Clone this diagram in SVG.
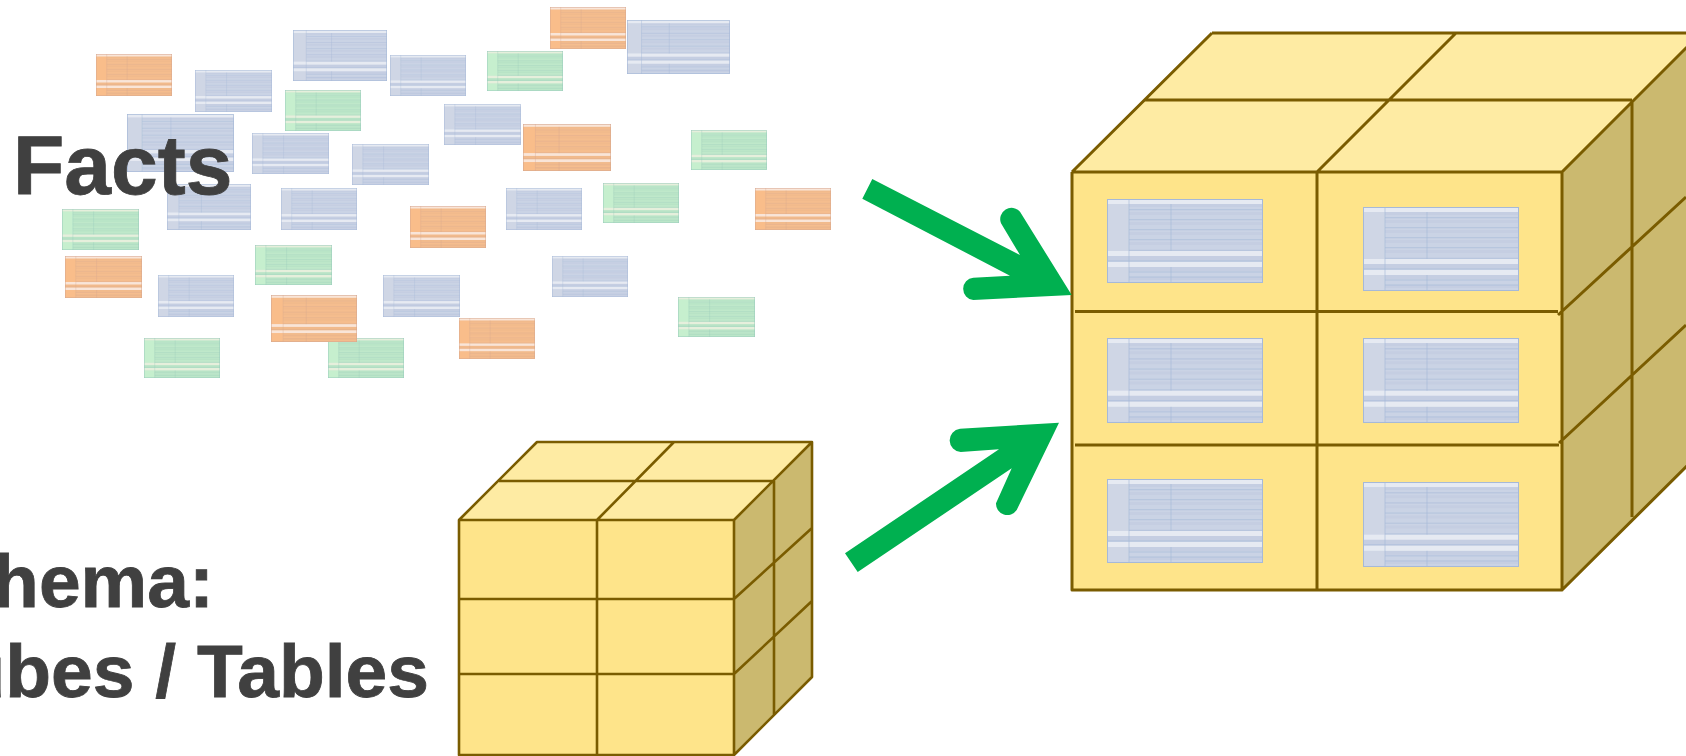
<svg xmlns="http://www.w3.org/2000/svg" width="1686" height="756" viewBox="0 0 1686 756">
<style>
.blue{--body:#cad3e5;--left:#cfd6e5;--band:#e6eaf2;--line:#a6b9d8;--stripe:#c5cee2}
.green{--body:#bfe8ca;--left:#c6efce;--band:#e6efdc;--line:#96c9bb;--stripe:#b8e3c6}
.orange{--body:#f5bd8e;--left:#f9bd8a;--band:#f9e5d8;--line:#d5a68f;--stripe:#f1ba8c}
.t-body{fill:var(--body)}
.t-left{fill:var(--left)}
.t-band{fill:var(--band)}
.t-stripe{fill:var(--stripe)}
.t-line{fill:none;stroke:var(--line);stroke-width:.8;stroke-opacity:.8}
.t-frame{fill:none;stroke:var(--line);stroke-width:1}
.face-front{fill:#fee48a}
.face-top{fill:#feeba3}
.face-side{fill:#cbb96f}
.edge{fill:none;stroke:#7a5c00;stroke-linejoin:round}
.big .edge{stroke-width:3}
.small .edge{stroke-width:2.6}
.arrow{fill:#00b050}
.label{font-family:"Liberation Sans",Arial,sans-serif;font-weight:700;fill:#404040;stroke:#404040;stroke-width:.8}
.l1{font-size:84px}
.l2{font-size:75px}
</style>
<defs>
<symbol id="table" viewBox="0 0 156 84" preserveAspectRatio="none">
<rect class="t-body" width="156" height="84"/>
<path class="t-stripe" d="M22 5h134v3H22zM22 13h134v3H22zM22 23h134v3H22zM22 33h134v3H22zM22 43h134v3H22zM0 57h156v5H0zM22 68h134v4H22zM22 78h134v3H22z"/>
<rect class="t-left" y="5" width="22" height="47"/>
<rect class="t-left" y="68" width="22" height="16"/>
<rect class="t-band" width="156" height="5"/>
<rect class="t-band" y="52" width="156" height="5"/>
<rect class="t-band" y="63" width="156" height="5"/>
<path class="t-line" d="M22 0V84M64 5V52M64 68V84M22 10.700H156M22 20.700H156M22 30.700H156M22 40.700H156M22 51.300H156M0 62H156M22 73H156M22 78H156"/>
<rect class="t-frame" x="0.500" y="0.500" width="155" height="83"/>
</symbol>
</defs>

<g id="facts-tables">
<use id="fact-01" class="orange" href="#table" x="96" y="54" width="76" height="42"/>
<use id="fact-02" class="blue" href="#table" x="195" y="70" width="77" height="42"/>
<use id="fact-03" class="blue" href="#table" x="293" y="30" width="94" height="51"/>
<use id="fact-04" class="blue" href="#table" x="390" y="55" width="76" height="41"/>
<use id="fact-05" class="green" href="#table" x="285" y="90" width="76" height="41"/>
<use id="fact-06" class="blue" href="#table" x="127" y="114" width="107" height="58"/>
<use id="fact-07" class="blue" href="#table" x="252" y="133" width="77" height="41"/>
<use id="fact-08" class="blue" href="#table" x="352" y="144" width="77" height="41"/>
<use id="fact-09" class="blue" href="#table" x="167" y="184" width="84" height="46"/>
<use id="fact-10" class="blue" href="#table" x="281" y="188" width="76" height="42"/>
<use id="fact-11" class="green" href="#table" x="62" y="209" width="77" height="41"/>
<use id="fact-12" class="orange" href="#table" x="410" y="206" width="76" height="42"/>
<use id="fact-13" class="orange" href="#table" x="550" y="7" width="76" height="42"/>
<use id="fact-14" class="blue" href="#table" x="627" y="20" width="103" height="54"/>
<use id="fact-15" class="green" href="#table" x="487" y="51" width="76" height="40"/>
<use id="fact-16" class="blue" href="#table" x="444" y="104" width="77" height="41"/>
<use id="fact-17" class="orange" href="#table" x="523" y="124" width="88" height="47"/>
<use id="fact-18" class="green" href="#table" x="691" y="130" width="76" height="40"/>
<use id="fact-19" class="blue" href="#table" x="506" y="188" width="76" height="42"/>
<use id="fact-20" class="green" href="#table" x="603" y="183" width="76" height="40"/>
<use id="fact-21" class="orange" href="#table" x="755" y="188" width="76" height="42"/>
<use id="fact-22" class="orange" href="#table" x="65" y="256" width="77" height="42"/>
<use id="fact-23" class="green" href="#table" x="255" y="245" width="77" height="40"/>
<use id="fact-24" class="blue" href="#table" x="158" y="275" width="76" height="42"/>
<use id="fact-25" class="blue" href="#table" x="383" y="275" width="77" height="42"/>
<use id="fact-26" class="blue" href="#table" x="552" y="256" width="76" height="41"/>
<use id="fact-27" class="green" href="#table" x="678" y="297" width="77" height="40"/>
<use id="fact-28" class="orange" href="#table" x="459" y="318" width="76" height="41"/>
<use id="fact-29" class="green" href="#table" x="144" y="338" width="76" height="40"/>
<use id="fact-30" class="green" href="#table" x="328" y="338" width="76" height="40"/>
<use id="fact-31" class="orange" href="#table" x="271" y="295" width="86" height="47"/>
</g>

<g id="label-facts"><text class="label l1" x="13" y="194">Facts</text></g>
<g id="label-schema">
<text class="label l2" text-anchor="end" x="214" y="607">Schema:</text>
<text class="label l2" text-anchor="end" x="429" y="697">Cubes / Tables</text>
</g>

<g id="small-cube" class="small">
<polygon class="face-top" points="459,520 537,442 812,442 734,520"/>
<polygon class="face-side" points="734,520 812,442 812,677 734,755"/>
<rect class="face-front" x="459" y="520" width="275" height="235"/>
<path class="edge" d="M459 520L537 442H812V677L734 755H459V520H734V755M734 520L812 442M597 520V755M459 599H734M459 674H734M597 520L674 442M499 481H774M774 481V715M734 599L812 528M734 674L812 601"/>
</g>

<g id="large-cube" class="big">
<polygon class="face-top" points="1072,172 1212,33 1702,33 1562,172"/>
<polygon class="face-side" points="1562,172 1702,33 1702,451 1562,590"/>
<rect class="face-front" x="1072" y="172" width="490" height="418"/>
<path class="edge" d="M1212 33H1702M1072 172L1212 33M1072 172H1562V590H1072V172M1562 172L1702 32M1562 590L1702 451M1317 172V590M1075 311.500H1558M1075 445H1559M1317 172L1456 33M1145 100H1632M1632 100V517M1558 315L1686 197M1559 443L1686 325"/>
<use id="cell-table-1" class="blue" href="#table" x="1107" y="199" width="156" height="84"/>
<use id="cell-table-2" class="blue" href="#table" x="1363" y="207" width="156" height="84"/>
<use id="cell-table-3" class="blue" href="#table" x="1107" y="338" width="156" height="85"/>
<use id="cell-table-4" class="blue" href="#table" x="1363" y="338" width="156" height="85"/>
<use id="cell-table-5" class="blue" href="#table" x="1107" y="479" width="156" height="84"/>
<use id="cell-table-6" class="blue" href="#table" x="1363" y="482" width="156" height="85"/>
</g>

<g id="connectors">
<path class="arrow" d="M872.300 179L1020 255L1001 223.300A11.300 11.300 0 0 1 1020 211.700L1071.700 295L973.300 300A11.200 11.200 0 0 1 973.300 277.700L1010 275.700L862.300 198.700Z"/>
<path class="arrow" d="M845 553.300L857.700 572L1011.700 468.300L996 503.300A11.300 11.300 0 0 0 1016.700 510L1059 422.700L960 428.700A11.700 11.700 0 0 0 960.700 452L999 449.300Z"/>
</g>
</svg>
